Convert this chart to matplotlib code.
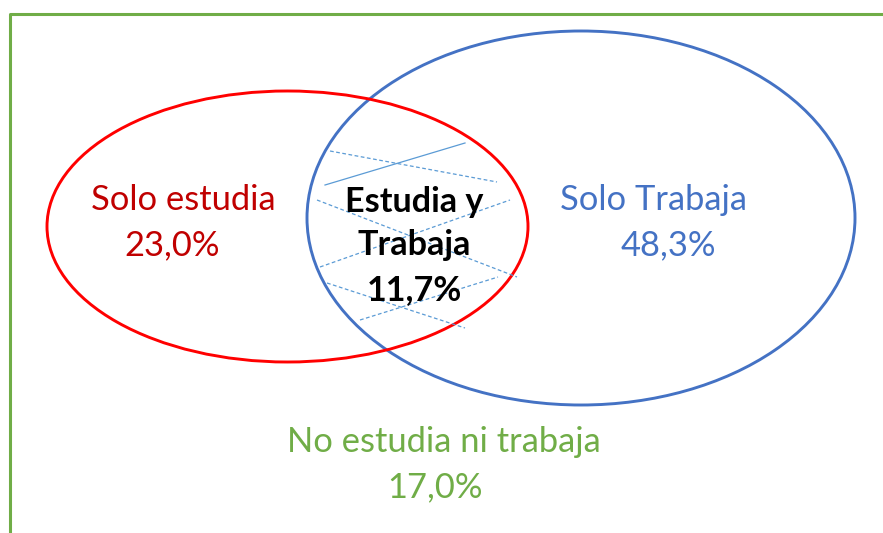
import matplotlib.pyplot as plt
from matplotlib.patches import Ellipse

# Etiquetas y porcentajes
labels = ["Solo estudia", "Solo Trabaja", "Estudia y\nTrabaja", "No estudia ni trabaja"]
values = [23.0, 48.3, 11.7, 17.0]

RED = "#FF0000"
RED_TXT = "#C00000"
BLUE = "#4472C4"
GREEN = "#70AD47"
HATCH = "#5B9BD5"

W, H = 883, 533
fig = plt.figure(figsize=(W / 100, H / 100), dpi=100)
ax = fig.add_axes([0, 0, 1, 1])
ax.set_xlim(0, W)
ax.set_ylim(H, 0)
ax.axis("off")

def pct(v):
    return f"{v:.1f}%".replace(".", ",")

# Rahmen (gruen)
ax.plot([9.5, 9.5, W + 5], [H + 5, 13.5, 13.5], color=GREEN, lw=2.2, solid_capstyle="butt")

# Ellipsen
ax.add_patch(Ellipse((581, 218), 548, 374, fill=False, ec=BLUE, lw=2.1))
ax.add_patch(Ellipse((287.5, 226.5), 481, 271, fill=False, ec=RED, lw=2.1))

# Schraffur in der Schnittmenge
ax.plot([325, 465], [185, 143], color=HATCH, lw=0.9)
hatch_segs = [
    ((330, 497), (151, 182)),
    ((317, 517), (200, 277)),
    ((320, 510), (267, 200)),
    ((327, 465), (283, 328)),
    ((360, 498), (320, 277)),
]
for xs, ys in hatch_segs:
    ax.plot(xs, ys, color=HATCH, lw=0.9, dashes=(3, 2))

font = "Lato"
fs = 24.8
ax.text(183, 200, labels[0], color=RED_TXT, fontsize=fs, family=font, ha="center", va="center")
ax.text(172, 245, pct(values[0]), color=RED_TXT, fontsize=fs, family=font, ha="center", va="center")
ax.text(654, 200, labels[1], color=BLUE, fontsize=fs, family=font, ha="center", va="center")
ax.text(668, 245, pct(values[1]), color=BLUE, fontsize=fs, family=font, ha="center", va="center")
ax.text(444, 442, labels[3], color=GREEN, fontsize=fs, family=font, ha="center", va="center")
ax.text(435, 487, pct(values[3]), color=GREEN, fontsize=fs, family=font, ha="center", va="center")

mid = labels[2].split("\n")
for txt, y in zip(mid + [pct(values[2])], [202, 245, 290]):
    ax.text(414, y, txt, color="black", fontsize=24.6, family=font, weight="bold",
            ha="center", va="center")

fig.savefig("out.png", dpi=100)
